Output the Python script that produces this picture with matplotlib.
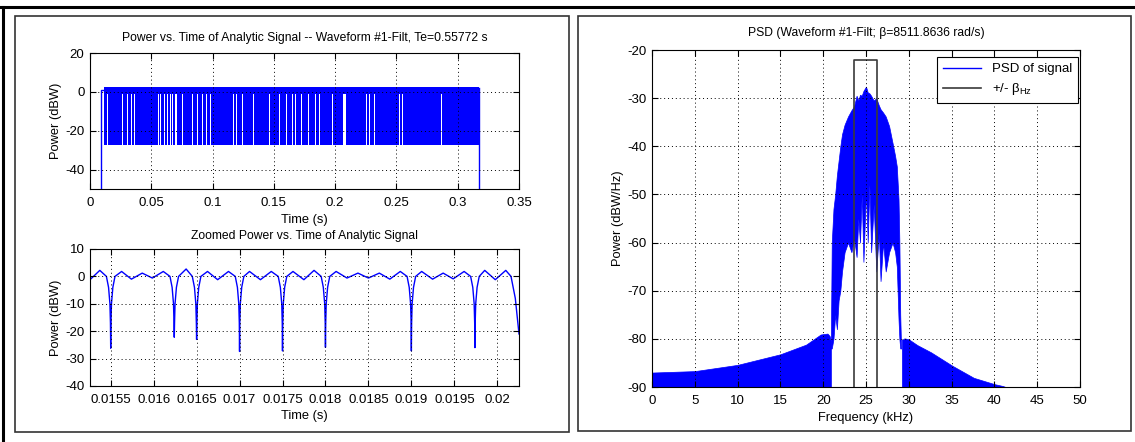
import numpy as np
import matplotlib.pyplot as plt
from matplotlib.patches import Rectangle
from matplotlib.lines import Line2D

plt.rcParams['font.family'] = ['Liberation Sans', 'DejaVu Sans']
plt.rcParams['mathtext.fontset'] = 'custom'
plt.rcParams['mathtext.rm'] = 'Liberation Sans'
plt.rcParams['mathtext.it'] = 'Liberation Sans'
plt.rcParams['axes.unicode_minus'] = False

BLUE = '#0000ff'
W, H = 1135, 442

# ---- top-left: power vs time (dense band, white streaks where no nulls occur)
band_start, band_end = 0.0113, 0.3174
band_top, band_mid, band_bottom = 2.6, -1.0, -27.5
gap_t = [0.0140, 0.0267, 0.0303, 0.0342, 0.0366, 0.0556, 0.0574, 0.0609,
         0.0630, 0.0654, 0.0675, 0.0695, 0.0705, 0.0758, 0.0838, 0.0877,
         0.0921, 0.0951, 0.0981, 0.1168, 0.1195, 0.1242, 0.1337, 0.1462,
         0.1545, 0.1605, 0.1649, 0.1679, 0.1724, 0.1783, 0.1842, 0.1872,
         0.1982, 0.2065, 0.2080, 0.2259, 0.2282, 0.2318, 0.2526, 0.2550,
         0.2868]
gap_w = 0.0009
edge_t = [0.0089, 0.3176]
edge_top = [1.2, 2.0]

# ---- bottom-left: zoomed power vs time
ripple_t = [0.015259, 0.015373, 0.015627, 0.015741, 0.015867, 0.015985,
            0.016112, 0.016378, 0.016627, 0.016745, 0.016871, 0.017116,
            0.017243, 0.017369, 0.017622, 0.017749, 0.017867, 0.018124,
            0.018251, 0.018378, 0.018500, 0.018627, 0.018749, 0.018871,
            0.019120, 0.019247, 0.019370, 0.019487, 0.019614, 0.019854,
            0.019977, 0.020099, 0.020160, 0.020210, 0.020253]
ripple_db = [-1.2, 2.2, 1.8, -1.0, 1.2, -0.6, 1.8, 2.7, 1.8, -1.2, 1.8, 1.8,
             -1.2, 1.8, 1.8, -1.2, 2.2, 1.8, -0.6, 1.2, -0.6, 1.2, -1.0, 1.8,
             1.8, -1.0, 1.2, -0.9, 1.8, 2.2, -1.2, 2.2, 0.0, -8.0, -21.0]
dip_t = [0.01550, 0.01624, 0.01650, 0.01700, 0.01750, 0.01800, 0.01900, 0.01974]
dip_db = [-26.2, -22.2, -23.0, -27.4, -27.2, -25.9, -27.2, -26.0]
dip_shape_dt = [-5e-5, -2.5e-5, -0.9e-5, -0.3e-5, 0.3e-5, 0.9e-5, 2.5e-5, 5e-5]
dip_shape_db = [0.0, -4.0, -10.0, -17.0, -17.0, -10.0, -4.0, 0.0]

# ---- right: PSD (kHz, dBW/Hz)
side_l_f = [0, 5, 10, 15, 18, 19.7, 20.5, 20.75, 20.9]
side_l_db = [-87.0, -86.7, -85.4, -83.2, -81.2, -79.1, -78.9, -79.4, -80.5]
main_f = [20.9, 21.0, 21.2, 21.4, 21.6, 21.8, 22.0, 22.2, 22.5, 22.9, 23.3,
          23.6, 23.9, 24.1, 24.3, 24.5, 24.7, 25.0, 25.2, 25.4, 25.6, 25.9,
          26.2, 26.5, 26.7, 27.0, 27.3, 27.7, 28.1, 28.4, 28.6, 28.8, 28.9,
          29.0, 29.1]
main_hi = [-80, -60, -53, -50, -46, -43, -40, -37.5, -35.5, -33.8, -32.5,
           -31.7, -29.5, -30.5, -29.3, -29.5, -28.5, -27.6, -28.8, -29.0,
           -29.5, -30.5, -30.0, -31.5, -32.3, -33.0, -33.8, -35.8, -39.3,
           -42.0, -44.2, -51.0, -60.0, -75.0, -82.0]
main_lo = [-82, -82, -80, -75, -78, -72, -70, -66, -62, -60, -62, -59, -63,
           -55, -60, -50, -64, -49, -60, -48, -62, -52, -66, -58, -68, -60,
           -66, -62, -60, -62, -65, -76, -80, -82, -82]
side_r_f = [29.2, 29.5, 30.0, 31.0, 32.6, 35.1, 37.6, 40.0, 41.0, 41.6]
side_r_db = [-80.2, -79.9, -80.1, -81.3, -82.8, -85.6, -88.1, -89.4, -89.8, -90.2]
beta_lo, beta_hi, beta_top = 23.62, 26.30, -22.0

TICK_FS = 9.5
LABEL_FS = 9.3
TITLE_FS = 8.7


def ax_rect(x0, y0, x1, y1):
    return [x0 / W, 1 - y1 / H, (x1 - x0) / W, (y1 - y0) / H]


def style(ax):
    ax.grid(True, linestyle=(0, (1, 3)), color='black', linewidth=0.7)
    ax.set_axisbelow(False)
    ax.tick_params(direction='in', top=True, right=True, length=4,
                   width=0.8, labelsize=TICK_FS)
    ax.tick_params(axis='x', pad=6)
    ax.tick_params(axis='y', pad=4)
    for s in ax.spines.values():
        s.set_linewidth(0.8)


fig = plt.figure(figsize=(W / 100, H / 100), dpi=100)

# top-left
ax1 = fig.add_axes(ax_rect(90, 53, 519, 189))
segs = []
prev = band_start
for g in gap_t:
    segs.append((prev, g - gap_w / 2 - prev))
    prev = g + gap_w / 2
segs.append((prev, band_end - prev))
ax1.broken_barh(segs, (band_bottom, band_mid - band_bottom), facecolors=BLUE,
                edgecolor='none')
ax1.fill_between([band_start, band_end], band_mid, band_top, color=BLUE, lw=0)
ax1.plot([edge_t[0], edge_t[0], band_start], [-50, edge_top[0], edge_top[0]],
         color=BLUE, lw=1)
ax1.plot([edge_t[1], edge_t[1]], [edge_top[1], -50], color=BLUE, lw=1)
ax1.set_xlim(0, 0.35)
ax1.set_ylim(-50, 20)
ax1.set_xticks(np.arange(0, 0.351, 0.05))
ax1.set_xticklabels(['0', '0.05', '0.1', '0.15', '0.2', '0.25', '0.3', '0.35'])
ax1.set_yticks([-40, -20, 0, 20])
style(ax1)
ax1.set_title('Power vs. Time of Analytic Signal -- Waveform #1-Filt, Te=0.55772 s',
              fontsize=TITLE_FS, pad=9)
ax1.set_xlabel('Time (s)', fontsize=LABEL_FS, labelpad=3)
ax1.set_ylabel('Power (dBW)', fontsize=LABEL_FS, labelpad=2)

# bottom-left
ax2 = fig.add_axes(ax_rect(90, 249, 519, 386))
pts = list(zip(ripple_t, ripple_db))
for t0, d0 in zip(dip_t, dip_db):
    for dt, db in zip(dip_shape_dt, dip_shape_db):
        pts.append((t0 + dt, db))
    pts.append((t0, d0))
pts.sort()
zt = [p[0] for p in pts]
zd = [p[1] for p in pts]
ax2.plot(zt, zd, color=BLUE, lw=1)
ax2.set_xlim(0.015259, 0.020253)
ax2.set_ylim(-40, 10)
ax2.set_xticks(np.arange(0.0155, 0.02001, 0.0005))
ax2.set_xticklabels(['0.0155', '0.016', '0.0165', '0.017', '0.0175', '0.018',
                     '0.0185', '0.019', '0.0195', '0.02'])
ax2.set_yticks(np.arange(-40, 11, 10))
style(ax2)
ax2.set_title('Zoomed Power vs. Time of Analytic Signal', fontsize=TITLE_FS, pad=7)
ax2.set_xlabel('Time (s)', fontsize=LABEL_FS, labelpad=3)
ax2.set_ylabel('Power (dBW)', fontsize=LABEL_FS, labelpad=2)

# right
ax3 = fig.add_axes(ax_rect(652, 50, 1080, 387))
ax3.fill_between(side_l_f, -95, side_l_db, color=BLUE, lw=0.5)
ax3.fill_between(main_f, main_lo, main_hi, color=BLUE, lw=0.5)
ax3.fill_between(side_r_f, -95, side_r_db, color=BLUE, lw=0.5)
ax3.plot([beta_lo, beta_lo, beta_hi, beta_hi], [-95, beta_top, beta_top, -95],
         color='#3a3a3a', lw=1.2)
ax3.set_xlim(0, 50)
ax3.set_ylim(-90, -20)
ax3.set_xticks(np.arange(0, 51, 5))
ax3.set_yticks(np.arange(-90, -19, 10))
style(ax3)
ax3.set_title('PSD (Waveform #1-Filt; β=8511.8636 rad/s)', fontsize=TITLE_FS, pad=10)
ax3.set_xlabel('Frequency (kHz)', fontsize=LABEL_FS, labelpad=3)
ax3.set_ylabel('Power (dBW/Hz)', fontsize=LABEL_FS, labelpad=2)
handles = [Line2D([], [], color=BLUE, lw=1), Line2D([], [], color='#3a3a3a', lw=1.2)]
leg = ax3.legend(handles, ['PSD of signal', r'+/- β$_{\mathrm{Hz}}$'],
                 loc='upper right', bbox_to_anchor=(0.9953, 0.979),
                 borderaxespad=0, fontsize=TICK_FS, fancybox=False,
                 framealpha=1, edgecolor='black', handlelength=2.9,
                 borderpad=0.45, labelspacing=0.45)
leg.get_frame().set_linewidth(0.8)

# panel frames and outer border
for x0, y0, x1, y1 in [(15, 16, 569, 432), (578, 16, 1131, 431)]:
    fig.add_artist(Rectangle((x0 / W, 1 - y1 / H), (x1 - x0) / W, (y1 - y0) / H,
                             transform=fig.transFigure, fill=False,
                             ec='#333333', lw=1.2))
fig.add_artist(Line2D([0, 1], [1 - 7 / H] * 2, transform=fig.transFigure,
                      color='black', lw=2.2))
fig.add_artist(Line2D([3 / W] * 2, [0, 1 - 7 / H], transform=fig.transFigure,
                      color='black', lw=2.2))

fig.savefig('out.png', dpi=100)
